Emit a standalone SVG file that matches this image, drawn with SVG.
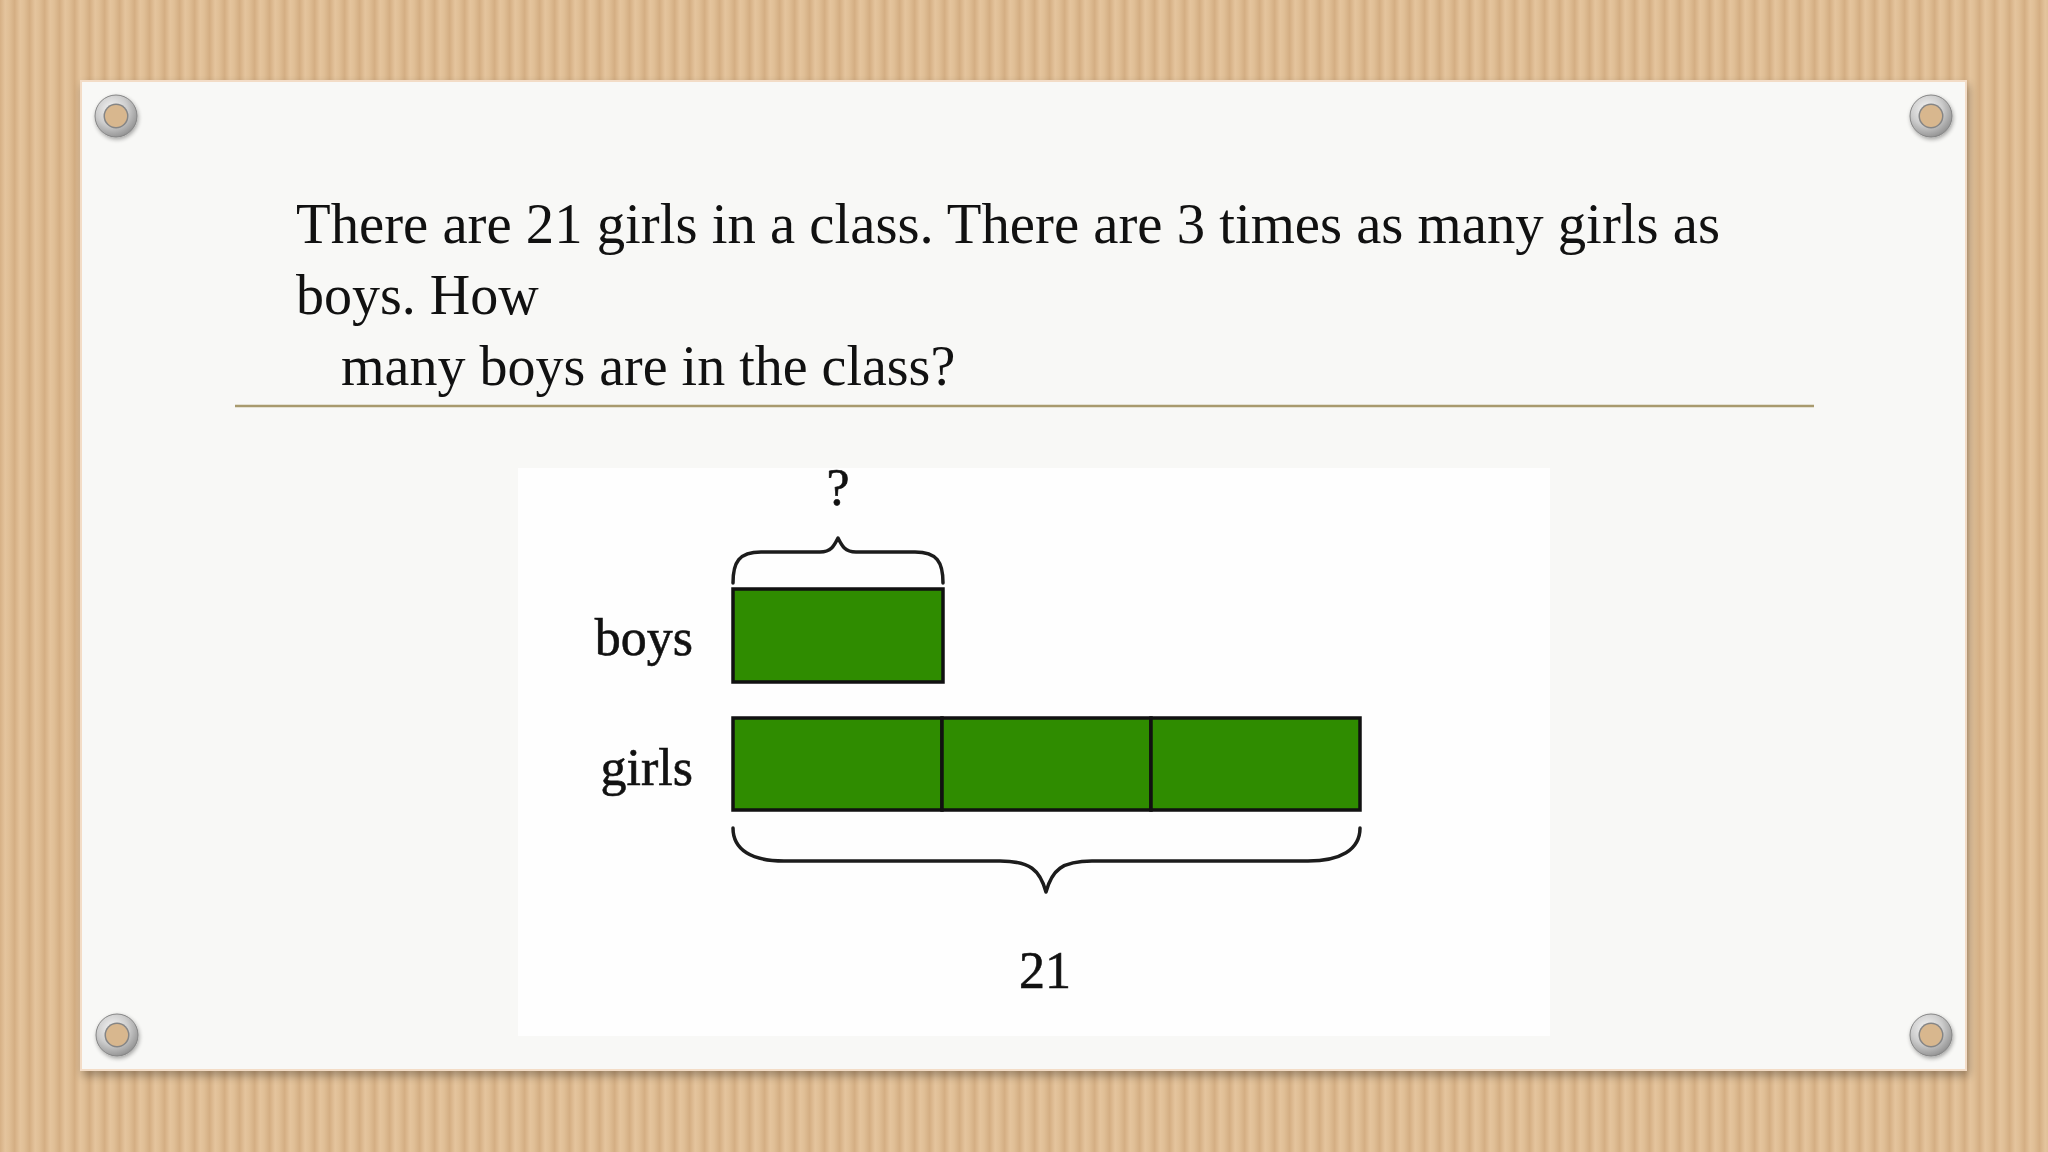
<svg xmlns="http://www.w3.org/2000/svg" width="2048" height="1152" viewBox="0 0 2048 1152">
<defs>
  <linearGradient id="stripeGrad" x1="0" y1="0" x2="1" y2="0">
    <stop offset="0" stop-color="#d6b085"/>
    <stop offset="0.35" stop-color="#e4c49d"/>
    <stop offset="0.6" stop-color="#e0bf96"/>
    <stop offset="1" stop-color="#d3ad82"/>
  </linearGradient>
  <pattern id="stripes" x="0" y="0" width="15" height="40" patternUnits="userSpaceOnUse">
    <rect width="15" height="40" fill="url(#stripeGrad)"/>
  </pattern>
  <radialGradient id="ring" cx="0.4" cy="0.35" r="0.75">
    <stop offset="0" stop-color="#f6f6f6"/>
    <stop offset="0.5" stop-color="#cdcdcd"/>
    <stop offset="0.85" stop-color="#9a9a9a"/>
    <stop offset="1" stop-color="#767676"/>
  </radialGradient>
  <filter id="shadow" x="-5%" y="-5%" width="110%" height="110%">
    <feGaussianBlur in="SourceAlpha" stdDeviation="5"/>
    <feOffset dx="2" dy="5" result="b"/>
    <feComponentTransfer><feFuncA type="linear" slope="0.3"/></feComponentTransfer>
    <feMerge><feMergeNode/><feMergeNode in="SourceGraphic"/></feMerge>
  </filter>
  <filter id="sshadow" x="-50%" y="-50%" width="200%" height="200%">
    <feGaussianBlur in="SourceAlpha" stdDeviation="2"/>
    <feOffset dx="1" dy="2" result="b"/>
    <feComponentTransfer><feFuncA type="linear" slope="0.35"/></feComponentTransfer>
    <feMerge><feMergeNode/><feMergeNode in="SourceGraphic"/></feMerge>
  </filter>
  <g id="grommet">
    <circle r="21" fill="url(#ring)" stroke="#858585" stroke-width="1" filter="url(#sshadow)"/>
    <circle r="12.5" fill="#858585"/>
    <circle r="11" fill="#d8b78e"/>
  </g>
</defs>
<style>
  .title { font-family: "Liberation Serif", "Times New Roman", serif; font-size: 56px; fill: #111; }
  .lbl { font-family: "Liberation Serif", "Times New Roman", serif; font-size: 52px; fill: #111; stroke: #111; stroke-width: 0.6; }
  .bar { fill: #2f8c00; stroke: #111; stroke-width: 3.5; }
  .brace { fill: none; stroke: #1c1c1c; stroke-width: 3.5; stroke-linejoin: round; stroke-linecap: round; }
</style>

<rect width="2048" height="1152" fill="url(#stripes)"/>

<g id="card">
  <rect x="81" y="81" width="1885" height="989" fill="#f8f8f6" stroke="#f3dcc6" stroke-width="2" filter="url(#shadow)"/>
</g>

<g id="grommets">
  <use href="#grommet" x="116" y="116"/>
  <use href="#grommet" x="1931" y="116"/>
  <use href="#grommet" x="117" y="1035"/>
  <use href="#grommet" x="1931" y="1035"/>
</g>

<g id="question">
  <text class="title" x="296" y="243" textLength="1424" lengthAdjust="spacingAndGlyphs">There are 21 girls in a class. There are 3 times as many girls as</text>
  <text class="title" x="296" y="314">boys. How</text>
  <text class="title" x="341" y="385">many boys are in the class?</text>
</g>

<g id="divider">
  <line x1="235" y1="406" x2="1814" y2="406" stroke="#a89a6e" stroke-width="2.5"/>
</g>

<g id="diagram-bg">
  <rect x="518" y="468" width="1032" height="568" fill="#fefefe"/>
</g>

<g id="label-question">
  <text class="lbl" x="838" y="505" text-anchor="middle">?</text>
</g>
<g id="label-boys">
  <text class="lbl" x="693" y="655" text-anchor="end">boys</text>
</g>
<g id="label-girls">
  <text class="lbl" x="693" y="785" text-anchor="end">girls</text>
</g>
<g id="label-21">
  <text class="lbl" x="1045" y="988" text-anchor="middle">21</text>
</g>

<g id="boys-bar">
  <rect class="bar" x="733" y="589" width="210" height="93"/>
</g>
<g id="girls-bar">
  <rect class="bar" x="733" y="718" width="209" height="92"/>
  <rect class="bar" x="942" y="718" width="209" height="92"/>
  <rect class="bar" x="1151" y="718" width="209" height="92"/>
</g>

<g id="connectors">
  <path class="brace" d="M733,583 C733,562 739,552 761,552 L820,552 C831,552 834,546 838,538 C842,546 845,552 856,552 L915,552 C937,552 943,562 943,583"/>
  <path class="brace" d="M733,828 C733,850 752,861 784,861 L1000,861 C1030,861 1040,870 1046,892 C1052,870 1062,861 1092,861 L1308,861 C1340,861 1360,850 1360,828"/>
</g>
</svg>
